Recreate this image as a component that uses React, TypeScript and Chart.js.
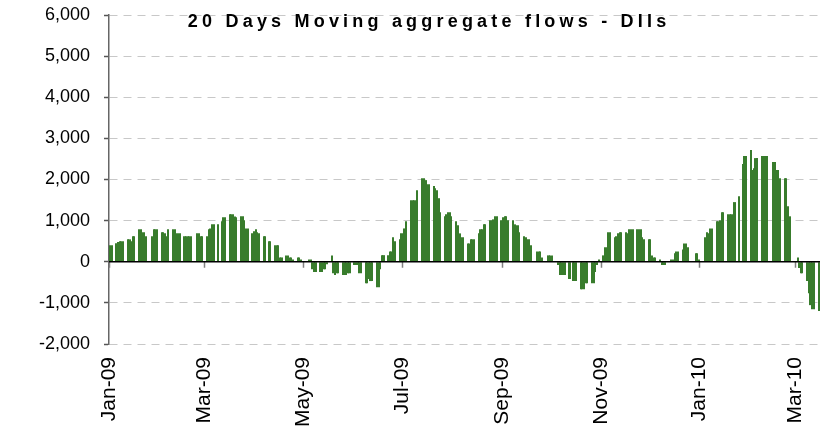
import { useEffect, useRef } from 'react';
import { Chart, registerables } from 'chart.js';

Chart.register(...registerables);

// 20-day moving aggregate DII flows, one row per trading week (Mon..Fri),
// first row is the week of Monday 29-Dec-2008; null = no trading / no value.
const weekStartOffset = -3; // Monday 29-Dec-2008 in days from 1-Jan-2009
const weeklyFlows: (number | null)[][] = [
  [null, null, null, 400, 400],
  [450, 480, 500, 500, 500],
  [545, 545, 500, 620, 620],
  [790, 790, 715, 715, 620],
  [null, 620, 790, 790, 790],
  [715, 715, 690, 620, 790],
  [790, 790, 690, 690, 690],
  [620, 620, 620, 620, 620],
  [null, 690, 690, 620, 620],
  [620, 790, 810, 910, 910],
  [910, null, 985, 1080, 1080],
  [1155, 1155, 1155, 1100, 1080],
  [1105, 1105, 1010, 810, 810],
  [690, 740, 790, 715, 690],
  [620, 620, null, 500, 500],
  [400, 400, 400, 105, 105],
  [155, 155, 105, 105, 55],
  [105, 105, 55, null, null],
  [55, 55, -180, -250, -250],
  [-250, -250, -180, -180, -60],
  [155, -280, -325, -280, -280],
  [-325, -325, -325, -280, -280],
  [-80, -80, -80, -280, -280],
  [-520, -520, -420, -470, -470],
  [-620, -620, -180, 160, 160],
  [160, 250, 250, 595, 500],
  [545, 690, 690, 810, 985],
  [1495, 1495, 1495, 1495, 1740],
  [2030, 2030, 1985, 1885, 1885],
  [1840, 1790, 1740, 1545, 1205],
  [1105, 1155, 1205, 1205, 1105],
  [985, 885, 690, 595, 595],
  [445, 445, 545, 545, 545],
  [690, 790, 790, 910, 910],
  [1010, 1010, 1030, 1105, 1105],
  [1010, 1080, 1105, 1105, 1010],
  [1010, 910, 885, 885, 715],
  [620, 595, 545, 545, 400],
  [null, 250, 250, 250, 105],
  [null, 155, 155, 155, null],
  [-80, -325, -325, -325, -325],
  [-420, null, -470, -470, -470],
  [-670, -670, -670, -520, -520],
  [-520, -520, -250, -80, 55],
  [155, 350, 350, 715, 715],
  [595, 620, 690, 715, 715],
  [715, 690, 790, 790, 790],
  [790, 790, 790, 595, 545],
  [545, 545, 155, 105, 105],
  [55, -80, -80, -80, null],
  [55, 55, 205, 250, 250],
  [300, 445, 445, 350, null],
  [null, 205, 205, 55, null],
  [595, 715, 690, 810, 810],
  [985, 985, 1010, 1205, 1205],
  [1155, 1155, 1155, 1155, 1450],
  [1595, null, 2375, 2570, 2570],
  [2715, 2230, 2275, 2520, 2520],
  [2570, 2570, 2570, 2570, null],
  [2425, 2425, 2230, 2230, 2030],
  [2030, 2030, 1350, 1105, null],
  [null, 105, -155, -280, -280],
  [-470, -765, -1055, -1155, -1155],
  [-1200],
];

// month ticks, in days from 1-Jan-2009
const tickDays = [0, 59, 120, 181, 243, 304, 365, 424];
const tickLabels = ['Jan-09', 'Mar-09', 'May-09', 'Jul-09', 'Sep-09', 'Nov-09', 'Jan-10', 'Mar-10'];
const xMaxDay = 439.5;
const yMin = -2000;
const yMax = 6000;
const yStep = 1000;
const titleText = '20 Days Moving aggregate flows - DIIs';

const FONT = '"Liberation Sans", Arial, Helvetica, sans-serif';
const BAR_COLOR = '#387C2C';

// snaps each day-bar to whole pixels so neighbouring days join without seams
const snapBarsPlugin = {
  id: 'snapBars',
  beforeDatasetsDraw(chart: any) {
    const xs = chart.scales.x;
    const meta = chart.getDatasetMeta(0);
    const data = chart.data.datasets[0].data as any[];
    meta.data.forEach((el: any, i: number) => {
      const xv = data[i].x;
      const l = Math.round(xs.getPixelForValue(xv - 0.5));
      const r = Math.round(xs.getPixelForValue(xv + 0.8));
      el.x = (l + r) / 2;
      el.width = Math.max(1, r - l);
    });
  },
};

const overlayPlugin = {
  id: 'overlay',
  afterDatasetsDraw(chart: any) {
    const { ctx, chartArea, scales } = chart;
    const yz = scales.y.getPixelForValue(0);
    ctx.save();
    // x-axis tick marks on the zero line
    ctx.strokeStyle = '#808080';
    ctx.lineWidth = 1.5;
    tickDays.forEach((d) => {
      const x = Math.round(scales.x.getPixelForValue(d)) + 0.5;
      ctx.beginPath();
      ctx.moveTo(x, yz);
      ctx.lineTo(x, yz + 6);
      ctx.stroke();
    });
    // zero line
    ctx.strokeStyle = '#000';
    ctx.lineWidth = 1.5;
    ctx.beginPath();
    ctx.moveTo(chartArea.left, yz);
    ctx.lineTo(chartArea.right, yz);
    ctx.stroke();
    ctx.restore();
  },
  afterDraw(chart: any) {
    const { ctx } = chart;
    ctx.save();
    ctx.font = 'bold 18px ' + FONT;
    ctx.fillStyle = '#000';
    ctx.textBaseline = 'middle';
    const spacing = 4.2;
    const cx = 427;
    const cy = 22;
    if ('letterSpacing' in ctx) {
      ctx.letterSpacing = spacing + 'px';
      ctx.textAlign = 'center';
      ctx.fillText(titleText, cx + spacing / 2, cy);
    } else {
      const chars = Array.from(titleText);
      const widths = chars.map((c) => ctx.measureText(c).width);
      const total = widths.reduce((a, b) => a + b, 0) + spacing * (chars.length - 1);
      let x = cx - total / 2;
      ctx.textAlign = 'left';
      chars.forEach((c, i) => {
        ctx.fillText(c, x, cy);
        x += widths[i] + spacing;
      });
    }
    ctx.restore();
  },
};

export default function App() {
  const ref = useRef<HTMLCanvasElement>(null);

  useEffect(() => {
    const canvas = ref.current;
    if (!canvas) return;
    Chart.defaults.font.family = FONT;

    const points: { x: number; y: number }[] = [];
    weeklyFlows.forEach((week, w) => {
      week.forEach((v, i) => {
        if (v !== null) points.push({ x: weekStartOffset + 7 * w + i + 0.5, y: v });
      });
    });

    const chart = new Chart(canvas, {
      type: 'bar',
      data: {
        datasets: [
          {
            label: 'DIIs',
            data: points as any,
            backgroundColor: BAR_COLOR,
            borderWidth: 0,
            inflateAmount: 0,
            barPercentage: 1,
            categoryPercentage: 1,
          },
        ],
      },
      options: {
        animation: false,
        responsive: false,
        devicePixelRatio: 1,
        layout: { padding: { top: 15, right: 0, left: 0, bottom: 0 } },
        plugins: {
          legend: { display: false },
          tooltip: { enabled: false },
          title: { display: false },
        },
        scales: {
          x: {
            type: 'linear',
            min: 0,
            max: xMaxDay,
            offset: false,
            grid: { display: false, drawTicks: false, offset: false },
            border: { display: false },
            afterBuildTicks: (s: any) => {
              s.ticks = tickDays.map((v) => ({ value: v }));
            },
            afterFit: (s: any) => {
              s.height = 87;
              s.paddingLeft = 0;
              s.paddingRight = 0;
            },
            ticks: {
              autoSkip: false,
              maxRotation: 90,
              minRotation: 90,
              padding: 13,
              color: '#000',
              font: { family: FONT, size: 21 },
              callback: (v: any) => {
                const i = tickDays.indexOf(Number(v));
                return i >= 0 ? tickLabels[i] : '';
              },
            },
          },
          y: {
            min: yMin,
            max: yMax,
            afterFit: (s: any) => {
              s.width = 109;
              s.paddingTop = 0;
              s.paddingBottom = 0;
            },
            ticks: {
              stepSize: yStep,
              padding: 14,
              color: '#000',
              font: { family: FONT, size: 18 },
              callback: (v: any) => Number(v).toLocaleString('en-US'),
            },
            grid: {
              color: (c: any) => (c.tick && c.tick.value === 0 ? 'rgba(0,0,0,0)' : '#c8c8c8'),
              lineWidth: 1,
              tickLength: 5,
              tickColor: '#555',
              tickWidth: 1.5,
            },
            border: { display: true, color: '#666', width: 1.5, dash: [8, 6] },
          },
        },
      } as any,
      plugins: [snapBarsPlugin, overlayPlugin],
    });
    return () => chart.destroy();
  }, []);

  return (
    <canvas
      ref={ref}
      width={820}
      height={431}
      style={{ position: 'absolute', left: 0, top: 0, display: 'block' }}
    />
  );
}
